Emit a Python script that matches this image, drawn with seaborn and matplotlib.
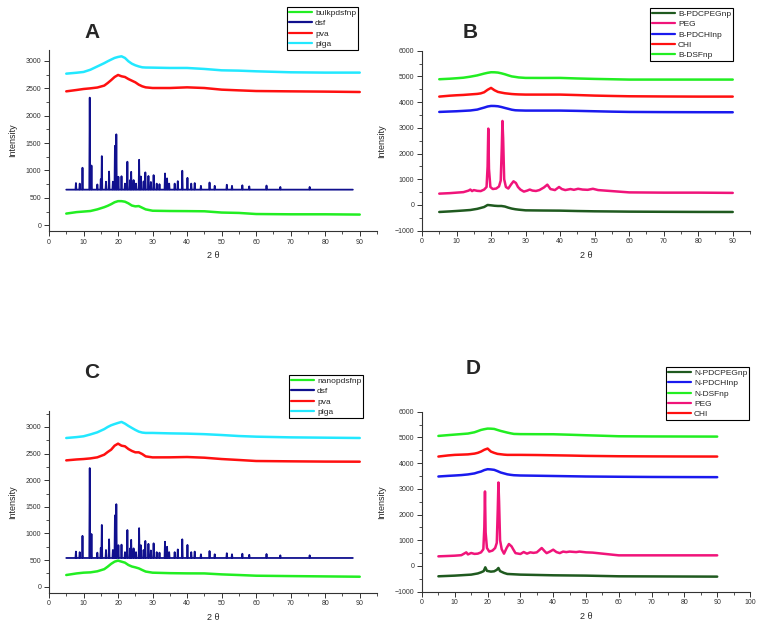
import matplotlib
matplotlib.use("Agg")
import matplotlib.pyplot as plt
from matplotlib.ticker import MultipleLocator
import seaborn as sns

# ---------------- data ----------------
hump_theta = [5, 8, 10, 12, 14, 16, 17, 18, 19, 20, 21, 22, 23, 24, 25, 26, 27, 28,
              30, 35, 40, 45, 50, 55, 60, 70, 80, 90]

# Panel A
a_bulkpdsfnp = [213, 240, 250, 260, 290, 330, 355, 385, 420, 440, 440, 430, 400, 360, 345, 350, 320, 290,
                265, 260, 258, 255, 232, 225, 205, 200, 200, 195]
a_pva = [2445, 2470, 2488, 2500, 2515, 2550, 2597, 2650, 2707, 2744, 2720, 2707, 2670, 2640, 2610, 2567, 2537, 2518,
         2506, 2506, 2518, 2506, 2476, 2463, 2451, 2445, 2440, 2433]
a_plga = [2768, 2785, 2799, 2840, 2900, 2960, 2994, 3025, 3055, 3073, 3085, 3055, 2994, 2950, 2921, 2900, 2884, 2880,
          2878, 2872, 2872, 2854, 2829, 2823, 2811, 2793, 2787, 2787]
dsf_range = [5, 88]
dsf_a_baseline = 650
dsf_peak_theta = [7.8, 8.9, 9.7, 11.8, 12.3, 14.0, 15.0, 15.3, 16.5, 17.4, 18.5, 19.1, 19.5, 20.1, 21.0, 22.0,
                  22.7, 23.5, 23.8, 24.5, 25.2, 26.1, 26.6, 27.4, 27.9, 28.8, 29.5, 30.3, 31.2, 32.0, 33.6, 34.2,
                  34.8, 36.4, 37.3, 38.6, 40.1, 41.2, 42.2, 44.0, 46.5, 48.0, 51.5, 53.0, 56.0, 58.0, 63.0, 67.0, 75.5]
dsf_a_peaks = [770, 760, 1050, 2330, 1090, 745, 840, 1262, 795, 980, 795, 1450, 1660, 885, 895, 760,
               1160, 825, 975, 825, 760, 1195, 890, 800, 965, 900, 790, 915, 760, 750, 945, 855,
               760, 760, 805, 995, 865, 760, 770, 720, 780, 720, 740, 720, 730, 710, 725, 700, 700]

# Panel C
c_nanopdsfnp = [220, 250, 264, 270, 290, 330, 377, 430, 471, 490, 471, 452, 408, 380, 364, 345, 314, 285,
                264, 255, 251, 250, 232, 220, 207, 200, 194, 188]
c_pva = [2373, 2390, 2398, 2410, 2430, 2480, 2530, 2574, 2649, 2687, 2649, 2637, 2586, 2550, 2524, 2524, 2492, 2448,
         2429, 2430, 2436, 2423, 2398, 2380, 2361, 2355, 2350, 2348]
c_plga = [2793, 2810, 2825, 2860, 2900, 2960, 3000, 3032, 3055, 3076, 3095, 3063, 3020, 2982, 2945, 2913, 2895, 2888,
          2888, 2880, 2875, 2865, 2849, 2830, 2818, 2805, 2799, 2793]
dsf_c_baseline = 540
dsf_c_peaks = [660, 650, 955, 2228, 990, 640, 730, 1160, 690, 890, 690, 1340, 1550, 780, 790, 650,
               1065, 720, 880, 720, 650, 1100, 780, 690, 860, 805, 680, 815, 650, 640, 845, 750,
               650, 650, 700, 890, 785, 650, 660, 610, 670, 610, 630, 610, 620, 600, 615, 590, 590]

# Panel B
b_dsfnp = [4890, 4910, 4929, 4950, 4990, 5040, 5075, 5110, 5140, 5162, 5160, 5149, 5120, 5084, 5040, 5000, 4981, 4960,
           4942, 4940, 4942, 4920, 4903, 4890, 4877, 4877, 4877, 4877]
b_chi = [4215, 4250, 4267, 4280, 4300, 4320, 4340, 4384, 4480, 4553, 4462, 4397, 4370, 4345, 4330, 4315, 4306, 4300,
         4293, 4293, 4293, 4275, 4254, 4240, 4228, 4220, 4215, 4215]
b_pdchinp = [3619, 3635, 3645, 3660, 3675, 3710, 3750, 3787, 3830, 3852, 3850, 3839, 3810, 3774, 3740, 3705, 3684, 3678,
             3671, 3671, 3671, 3660, 3645, 3630, 3619, 3612, 3608, 3606]
b_pdcpegnp = [-272, -250, -233, -215, -195, -150, -115, -78, 0, -13, -30, -39, -39, -60, -104, -140, -165, -182,
              -208, -215, -220, -235, -246, -252, -259, -265, -270, -272]
peg_b_theta = [5, 8, 10, 12, 13.5, 14, 14.5, 15, 16, 17, 18, 18.7, 19.0, 19.2, 19.4, 19.8, 20.5, 21.5, 22.3, 22.8,
               23.1, 23.3, 23.5, 23.8, 24.3, 25, 25.8, 26.5, 27.2, 27.8, 28.5, 29.5, 30.5, 31.2, 32, 33, 34, 35.3,
               36.3, 37.2, 38.5, 39.7, 40.5, 41.5, 43, 44, 45.2, 46.5, 48, 49.5, 51, 53, 55, 57, 60, 70, 80, 90]
peg_b = [441, 460, 480, 500, 560, 600, 540, 580, 550, 540, 600, 700, 1500, 2970, 1400, 700, 620, 640, 720, 950,
         2200, 3268, 2600, 1000, 700, 640, 800, 921, 856, 700, 600, 520, 560, 600, 560, 545, 580, 680,
         791, 620, 580, 700, 620, 580, 620, 590, 630, 600, 590, 630, 580, 560, 540, 520, 490, 480, 480, 470]

# Panel D
d_dsfnp = [5058, 5090, 5110, 5130, 5150, 5200, 5245, 5291, 5320, 5343, 5340, 5330, 5290, 5252, 5220, 5188, 5160, 5136,
           5128, 5125, 5123, 5105, 5084, 5065, 5045, 5038, 5035, 5032]
d_chi = [4256, 4300, 4321, 4330, 4340, 4370, 4400, 4450, 4520, 4567, 4450, 4400, 4360, 4345, 4330, 4321, 4321, 4321,
         4321, 4315, 4305, 4295, 4282, 4275, 4268, 4262, 4258, 4256]
d_pdchinp = [3480, 3505, 3519, 3535, 3560, 3600, 3640, 3674, 3730, 3764, 3755, 3739, 3690, 3635, 3600, 3565, 3545, 3530,
             3519, 3510, 3500, 3490, 3480, 3475, 3470, 3462, 3458, 3454]
d_pdcpeg_theta = [5, 10, 15, 17, 18, 18.8, 19.3, 19.8, 21, 22, 22.8, 23.3, 23.8, 25, 26, 30, 40, 50, 60, 90]
d_pdcpegnp = [-401, -375, -336, -290, -246, -200, -52, -190, -220, -207, -150, -78, -200, -270, -310, -336, -362,
              -375, -401, -414]
peg_d_theta = [5, 8, 10, 12, 13.5, 14, 15, 16, 17, 18, 18.7, 19.0, 19.2, 19.4, 19.8, 20.5, 21.5, 22.3, 22.8, 23.1,
               23.3, 23.5, 23.8, 24.3, 25, 25.8, 26.5, 27.3, 27.8, 28.5, 30, 31, 32, 33, 34, 35, 36.5, 37.5, 38,
               39, 40, 41, 42, 43, 44, 45, 47, 48, 50, 52, 55, 58, 60, 70, 80, 90]
peg_d = [375, 390, 401, 420, 530, 450, 505, 470, 480, 530, 650, 1500, 2898, 1300, 700, 560, 600, 700, 900, 2200,
         3247, 2500, 1000, 650, 479, 700, 854, 763, 650, 500, 466, 543, 480, 530, 510, 530, 699, 560, 500,
         560, 634, 540, 500, 560, 540, 560, 540, 560, 530, 520, 480, 440, 414, 414, 414, 414]

# colours
c_green = "#22ee22"
c_navy = "#10108e"
c_red = "#ff1010"
c_cyan = "#22e8ff"
c_dkgreen = "#1f5a1f"
c_pink = "#f0147a"
c_blue = "#1a1aee"


def stick_pattern(rng, base, pos, heights, hw=0.13):
    xs, ys = [rng[0]], [base]
    for p, h in zip(pos, heights):
        xs += [p - hw, p, p + hw]
        ys += [base, h, base]
    xs.append(rng[1])
    ys.append(base)
    return xs, ys


# ---------------- figure ----------------
sns.set_style("ticks")
plt.rcParams["font.family"] = ["Liberation Sans", "DejaVu Sans"]

fig = plt.figure(figsize=(7.6, 6.24), dpi=100)
W, H = 760, 624


def add_ax(left, top, right, bottom):
    return fig.add_axes([left / W, 1 - bottom / H, (right - left) / W, (bottom - top) / H])


axA = add_ax(49, 50, 377, 231)
axB = add_ax(422, 50.7, 750, 230.7)
axC = add_ax(49, 411, 377, 592.7)
axD = add_ax(422, 411.7, 750, 591.7)

LW = 1.8


def draw(ax, x, y, color, label):
    sns.lineplot(x=x, y=y, color=color, label=label, ax=ax, sort=False, estimator=None,
                 linewidth=LW)


# A
draw(axA, hump_theta, a_bulkpdsfnp, c_green, "bulkpdsfnp")
xs, ys = stick_pattern(dsf_range, dsf_a_baseline, dsf_peak_theta, dsf_a_peaks)
sns.lineplot(x=xs, y=ys, color=c_navy, label="dsf", ax=axA, sort=False, estimator=None, linewidth=1.3)
draw(axA, hump_theta, a_pva, c_red, "pva")
draw(axA, hump_theta, a_plga, c_cyan, "plga")

# C
draw(axC, hump_theta, c_nanopdsfnp, c_green, "nanopdsfnp")
xs, ys = stick_pattern(dsf_range, dsf_c_baseline, dsf_peak_theta, dsf_c_peaks)
sns.lineplot(x=xs, y=ys, color=c_navy, label="dsf", ax=axC, sort=False, estimator=None, linewidth=1.3)
draw(axC, hump_theta, c_pva, c_red, "pva")
draw(axC, hump_theta, c_plga, c_cyan, "plga")

# B
draw(axB, hump_theta, b_pdcpegnp, c_dkgreen, "B-PDCPEGnp")
draw(axB, peg_b_theta, peg_b, c_pink, "PEG")
draw(axB, hump_theta, b_pdchinp, c_blue, "B-PDCHInp")
draw(axB, hump_theta, b_chi, c_red, "CHI")
draw(axB, hump_theta, b_dsfnp, c_green, "B-DSFnp")

# D
draw(axD, d_pdcpeg_theta, d_pdcpegnp, c_dkgreen, "N-PDCPEGnp")
draw(axD, hump_theta, d_pdchinp, c_blue, "N-PDCHInp")
draw(axD, hump_theta, d_dsfnp, c_green, "N-DSFnp")
draw(axD, peg_d_theta, peg_d, c_pink, "PEG")
draw(axD, hump_theta, d_chi, c_red, "CHI")

# axes styling
spine_col = "#333333"
for ax in (axA, axB, axC, axD):
    sns.despine(ax=ax)
    for s in ("left", "bottom"):
        ax.spines[s].set_color(spine_col)
        ax.spines[s].set_linewidth(0.8)
    ax.tick_params(axis="both", which="major", direction="out", length=3.5, width=0.7,
                   color=spine_col, labelsize=5, labelcolor="#333333", pad=2)
    ax.tick_params(axis="both", which="minor", direction="out", length=2, width=0.6, color=spine_col)
    ax.xaxis.set_major_locator(MultipleLocator(10))
    ax.xaxis.set_minor_locator(MultipleLocator(5))
    ax.set_xlabel("2 θ", fontsize=6.5, labelpad=4)
    ax.set_ylabel("Intensity", fontsize=6.5, labelpad=6)
    ax.set_facecolor("white")

axA.set_xlim(0, 95)
axC.set_xlim(0, 95)
axB.set_xlim(0, 95)
axD.set_xlim(0, 100)
axA.set_ylim(-105, 3200)
axC.set_ylim(-112, 3300)
for ax in (axA, axC):
    ax.yaxis.set_major_locator(MultipleLocator(500))
    ax.yaxis.set_minor_locator(MultipleLocator(250))
    ax.set_yticks(range(0, 3001, 500))
for ax in (axB, axD):
    ax.set_ylim(-1000, 6000)
    ax.yaxis.set_major_locator(MultipleLocator(1000))
    ax.yaxis.set_minor_locator(MultipleLocator(500))
axA.set_xticks(range(0, 91, 10))
axB.set_xticks(range(0, 91, 10))
axC.set_xticks(range(0, 91, 10))
axD.set_xticks(range(0, 101, 10))


def place_legend(ax, left, top):
    h, l = ax.get_legend_handles_labels()
    leg = ax.legend(h, l, loc="upper left", bbox_to_anchor=(left / W, 1 - top / H),
                    bbox_transform=fig.transFigure, frameon=True, fancybox=False,
                    edgecolor="black", framealpha=1, fontsize=6, handlelength=2.7,
                    borderpad=0.25, labelspacing=0.3, handletextpad=0.4, borderaxespad=0)
    leg.get_frame().set_linewidth(0.8)
    for line in leg.get_lines():
        line.set_linewidth(1.6)


place_legend(axA, 287, 7)
place_legend(axB, 650, 8)
place_legend(axC, 289, 375)
place_legend(axD, 666, 367)

for txt, x, y in (("A", 92, 32), ("B", 470, 32), ("C", 92, 373), ("D", 473, 369)):
    fig.text(x / W, 1 - y / H, txt, fontsize=15, fontweight="bold", ha="center", va="center")

fig.savefig("out.png", dpi=100, facecolor="white")
